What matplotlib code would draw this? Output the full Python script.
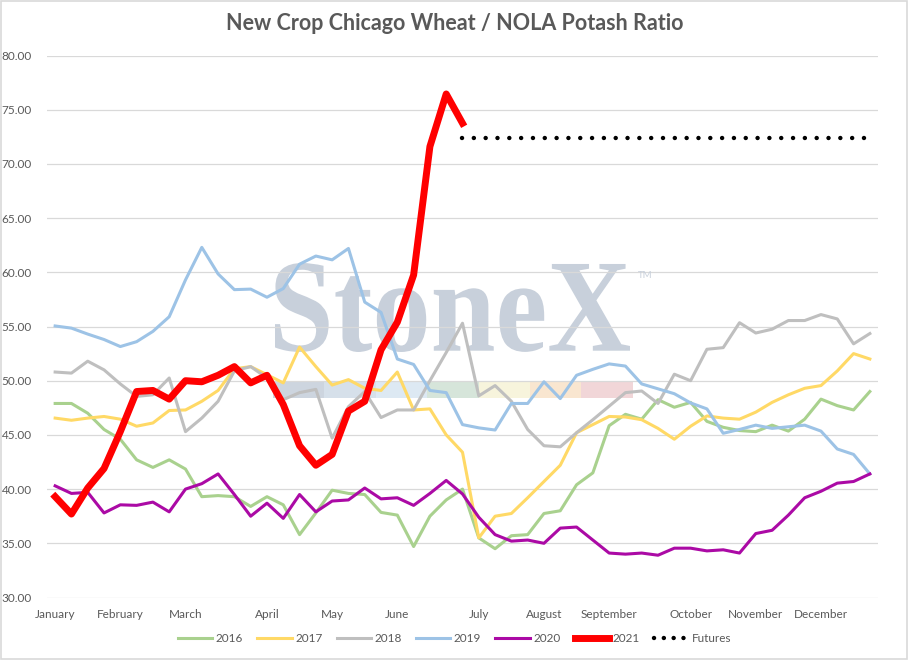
import matplotlib.pyplot as plt
import numpy as np
from matplotlib.textpath import TextPath
from matplotlib.patches import PathPatch, Rectangle
from matplotlib.font_manager import FontProperties
from matplotlib.transforms import Affine2D, IdentityTransform

# weekly ratio values, one point per week
y2016 = [47.9, 47.9, 47.0, 45.5, 44.6, 42.7, 42.0, 42.7, 41.85, 39.3,
         39.4, 39.3, 38.4, 39.3, 38.55, 35.8, 37.8, 39.9, 39.6, 39.5,
         37.85, 37.6, 34.7, 37.5, 39.0, 40.0, 35.5, 34.5, 35.7, 35.8,
         37.75, 38.0, 40.4, 41.5, 45.85, 46.9, 46.45, 48.25, 47.55, 48.0,
         46.25, 45.7, 45.4, 45.3, 45.9, 45.35, 46.45, 48.3, 47.7, 47.3, 49.0]
y2017 = [46.55, 46.35, 46.55, 46.7, 46.45, 45.8, 46.1, 47.25, 47.3, 48.1,
         49.1, 51.1, 51.3, 50.55, 49.8, 53.1, 51.3, 49.6, 50.1, 49.3,
         49.1, 50.8, 47.3, 47.4, 45.0, 43.4, 35.5, 37.5, 37.75, 39.2,
         40.7, 42.2, 45.2, 45.95, 46.7, 46.65, 46.4, 45.6, 44.6, 45.8,
         46.75, 46.55, 46.45, 47.1, 48.0, 48.7, 49.3, 49.55, 50.9, 52.5, 52.0]
y2018 = [50.8, 50.7, 51.8, 51.0, 49.7, 48.55, 48.7, 50.25, 45.3, 46.55,
         48.1, 50.9, 51.3, 50.25, 48.25, 48.9, 49.2, 44.7, 47.6, 49.0,
         46.6, 47.3, 47.3, 50.0, 52.6, 55.3, 48.6, 49.55, 48.1, 45.5,
         44.0, 43.9, 45.2, 46.4, 47.65, 48.9, 49.05, 47.9, 50.6, 50.0,
         52.9, 53.05, 55.35, 54.4, 54.75, 55.55, 55.55, 56.1, 55.7, 53.4, 54.35]
y2019 = [55.05, 54.85, 54.3, 53.8, 53.15, 53.6, 54.55, 55.9, 59.3, 62.3,
         59.85, 58.4, 58.45, 57.7, 58.5, 60.75, 61.5, 61.15, 62.2, 57.25,
         56.3, 52.0, 51.5, 49.1, 48.9, 45.95, 45.65, 45.45, 47.9, 47.9,
         49.9, 48.35, 50.5, 51.05, 51.55, 51.35, 49.7, 49.25, 48.8, 47.95,
         47.4, 45.15, 45.5, 45.9, 45.6, 45.75, 45.9, 45.35, 43.7, 43.2, 41.4]
y2020 = [40.3, 39.6, 39.7, 37.8, 38.55, 38.5, 38.8, 37.9, 40.0, 40.5,
         41.4, 39.5, 37.5, 38.7, 37.3, 39.5, 37.9, 38.9, 39.0, 40.1,
         39.1, 39.2, 38.5, 39.6, 40.8, 39.55, 37.4, 35.8, 35.2, 35.3,
         35.0, 36.4, 36.5, 35.3, 34.1, 34.0, 34.1, 33.9, 34.55, 34.55,
         34.3, 34.4, 34.1, 35.9, 36.2, 37.6, 39.2, 39.8, 40.55, 40.7, 41.4]
y2021 = [39.3, 37.7, 40.1, 41.9, 45.3, 49.0, 49.1, 48.3, 50.0, 49.9,
         50.5, 51.3, 49.8, 50.5, 47.8, 44.0, 42.2, 43.2, 47.2, 48.1,
         52.85, 55.4, 59.75, 71.6, 76.45, 73.75]
futures_start = 25
futures_value = 72.4

months = ['January', 'February', 'March', 'April', 'May', 'June', 'July',
          'August', 'September', 'October', 'November', 'December']
month_weeks = [0, 4, 8, 13, 17, 21, 26, 30, 34, 39, 43, 47]

txt = '#595959'
plt.rcParams['font.family'] = ['Lato', 'DejaVu Sans']

fig = plt.figure(figsize=(9.09, 6.60), dpi=100)
ax = fig.add_axes([47 / 909, 62.5 / 660, 831 / 909, 542 / 660])

# chart border
fig.patches.append(Rectangle((0.001, 0.001), 0.997, 0.997, transform=fig.transFigure,
                             fill=False, edgecolor='#d9d9d9', linewidth=1.2))

n = len(y2016)
x = np.arange(n)
ax.plot(x, y2016, color='#a9d18e', lw=2.2, label='2016')
ax.plot(x, y2017, color='#ffd966', lw=2.2, label='2017')
ax.plot(x, y2018, color='#bfbfbf', lw=2.2, label='2018')
ax.plot(x, y2019, color='#9dc3e6', lw=2.2, label='2019')
ax.plot(x, y2020, color='#ab0aa5', lw=2.2, label='2020')
ax.plot(np.arange(len(y2021)), y2021, color='#ff0000', lw=5, label='2021',
        solid_joinstyle='round', zorder=3)
fx = np.arange(futures_start, n)
ax.plot(fx, [futures_value] * len(fx), color='black', lw=3.2,
        linestyle=(0, (0.01, 2.65)), dash_capstyle='round')
# legend-only handle with tighter dots
ax.plot([], [], color='black', lw=3.2, linestyle=(0, (0.01, 2.2)),
        dash_capstyle='round', label='Futures')

ax.set_xlim(-0.5, n - 0.5)
ax.set_ylim(30, 80)
ax.set_yticks(np.arange(30, 81, 5))
ax.yaxis.set_major_formatter(plt.FuncFormatter(lambda v, p: f'{v:.2f}'))
ax.set_xticks(month_weeks)
ax.set_xticklabels(months)
ax.tick_params(axis='both', length=0, colors=txt, labelsize=8.5)
ax.tick_params(axis='y', pad=11)
ax.tick_params(axis='x', pad=8)
ax.grid(axis='y', color='#d9d9d9', lw=0.9)
ax.set_axisbelow(True)
for s in ax.spines.values():
    s.set_visible(False)

# StoneX watermark, fitted to its box in pixels
tp = TextPath((0, 0), 'StoneX', size=100,
              prop=FontProperties(family='Liberation Serif', weight='bold'))
ext = tp.get_extents()
wx0, wx1, wy0, wy1 = 275, 630, 660 - 352, 660 - 263
tr = Affine2D().translate(-ext.x0, -ext.y0).scale((wx1 - wx0) / ext.width,
                                                  (wy1 - wy0) / ext.height).translate(wx0, wy0)
ax.add_patch(PathPatch(tr.transform_path(tp), transform=IdentityTransform(),
                       facecolor='#c8d0db', edgecolor='none', zorder=0.2))
fig.text(638 / 909, 1 - 278 / 660, 'TM', fontsize=7, color='#c8d0db')
bar_cols = ['#cdd5df', '#d6e0ea', '#dde9f3', '#d6e5da', '#f7f4dc', '#f9e6d0', '#f1d6d8']
bx = 273
for c in bar_cols:
    ax.add_patch(Rectangle((bx, 660 - 398), 51.4, 16.5, transform=IdentityTransform(),
                           facecolor=c, edgecolor='none', zorder=0.2))
    bx += 51.4

fig.text(0.5, 1 - 24 / 660, 'New Crop Chicago Wheat / NOLA Potash Ratio',
         ha='center', va='center', fontsize=15.5, fontweight='bold', color=txt)

fig.legend(loc='center', bbox_to_anchor=(0.5, 1 - 639 / 660), ncol=7, frameon=False,
           fontsize=8.5, handlelength=2.9, columnspacing=1.2, handletextpad=0.3,
           labelcolor=txt)

fig.savefig('out.png', dpi=100)
